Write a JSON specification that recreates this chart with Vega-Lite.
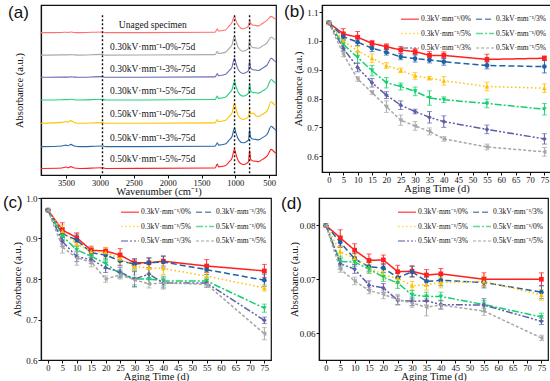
{
"$schema":"https://vega.github.io/schema/vega-lite/v6.json",
"padding":{"left":2,"top":2,"right":0,"bottom":0},
"config":{
 "font":"Liberation Serif",
 "view":{"stroke":"#111","strokeWidth":1.2},
 "axis":{"grid":false,"domainColor":"#111","domainWidth":1.2,"tickColor":"#111","tickSize":3,"labelFont":"Liberation Serif","labelFontSize":9,"labelColor":"#111","labelPadding":1,"titleFont":"Liberation Serif","titleFontSize":10.5,"titleFontWeight":"normal","titleColor":"#111","titlePadding":0,"labelOverlap":false},
 "axisX":{"labelPadding":0,"titlePadding":0,"labelFontSize":8.5}
},
"datasets":{
 "spec":[
{"s":"U","w":3870,"y":6.28},{"s":"U","w":3560,"y":6.29},{"s":"U","w":3500,"y":6.30},{"s":"U","w":3470,"y":6.29},{"s":"U","w":3430,"y":6.31},{"s":"U","w":3380,"y":6.29},{"s":"U","w":3300,"y":6.28},{"s":"U","w":2962,"y":6.31},{"s":"U","w":2920,"y":6.28},{"s":"U","w":1300,"y":6.30},{"s":"U","w":1265,"y":6.45},{"s":"U","w":1250,"y":6.35},{"s":"U","w":1150,"y":6.40},{"s":"U","w":1090,"y":6.58},{"s":"U","w":1050,"y":6.73},{"s":"U","w":1012,"y":7.00},{"s":"U","w":990,"y":6.80},{"s":"U","w":950,"y":6.58},{"s":"U","w":890,"y":6.45},{"s":"U","w":850,"y":6.48},{"s":"U","w":805,"y":6.58},{"s":"U","w":790,"y":6.84},{"s":"U","w":775,"y":6.70},{"s":"U","w":740,"y":6.61},{"s":"U","w":700,"y":6.60},{"s":"U","w":660,"y":6.58},{"s":"U","w":600,"y":6.68},{"s":"U","w":530,"y":6.83},{"s":"U","w":470,"y":7.00},{"s":"U","w":440,"y":6.94},{"s":"U","w":400,"y":6.86},
{"s":"G","w":3870,"y":5.29},{"s":"G","w":3560,"y":5.30},{"s":"G","w":3500,"y":5.30},{"s":"G","w":3470,"y":5.30},{"s":"G","w":3430,"y":5.31},{"s":"G","w":3380,"y":5.30},{"s":"G","w":3300,"y":5.29},{"s":"G","w":2962,"y":5.32},{"s":"G","w":2920,"y":5.29},{"s":"G","w":1300,"y":5.31},{"s":"G","w":1265,"y":5.46},{"s":"G","w":1250,"y":5.36},{"s":"G","w":1150,"y":5.41},{"s":"G","w":1090,"y":5.59},{"s":"G","w":1050,"y":5.74},{"s":"G","w":1012,"y":6.14},{"s":"G","w":990,"y":5.90},{"s":"G","w":950,"y":5.59},{"s":"G","w":890,"y":5.46},{"s":"G","w":850,"y":5.49},{"s":"G","w":805,"y":5.59},{"s":"G","w":790,"y":6.01},{"s":"G","w":775,"y":5.71},{"s":"G","w":740,"y":5.62},{"s":"G","w":700,"y":5.61},{"s":"G","w":660,"y":5.59},{"s":"G","w":600,"y":5.69},{"s":"G","w":530,"y":5.84},{"s":"G","w":470,"y":6.09},{"s":"G","w":440,"y":6.03},{"s":"G","w":400,"y":5.93},
{"s":"P","w":3870,"y":4.31},{"s":"P","w":3560,"y":4.32},{"s":"P","w":3500,"y":4.32},{"s":"P","w":3470,"y":4.32},{"s":"P","w":3430,"y":4.33},{"s":"P","w":3380,"y":4.32},{"s":"P","w":3300,"y":4.31},{"s":"P","w":2962,"y":4.34},{"s":"P","w":2920,"y":4.31},{"s":"P","w":1300,"y":4.33},{"s":"P","w":1265,"y":4.48},{"s":"P","w":1250,"y":4.38},{"s":"P","w":1150,"y":4.43},{"s":"P","w":1090,"y":4.61},{"s":"P","w":1050,"y":4.76},{"s":"P","w":1012,"y":5.15},{"s":"P","w":990,"y":4.91},{"s":"P","w":950,"y":4.61},{"s":"P","w":890,"y":4.48},{"s":"P","w":850,"y":4.51},{"s":"P","w":805,"y":4.61},{"s":"P","w":790,"y":5.07},{"s":"P","w":775,"y":4.73},{"s":"P","w":740,"y":4.64},{"s":"P","w":700,"y":4.63},{"s":"P","w":660,"y":4.61},{"s":"P","w":600,"y":4.71},{"s":"P","w":530,"y":4.86},{"s":"P","w":470,"y":5.15},{"s":"P","w":440,"y":5.08},{"s":"P","w":400,"y":4.98},
{"s":"N","w":3870,"y":3.31},{"s":"N","w":3560,"y":3.32},{"s":"N","w":3500,"y":3.33},{"s":"N","w":3470,"y":3.32},{"s":"N","w":3430,"y":3.34},{"s":"N","w":3380,"y":3.32},{"s":"N","w":3300,"y":3.31},{"s":"N","w":2962,"y":3.34},{"s":"N","w":2920,"y":3.31},{"s":"N","w":1300,"y":3.33},{"s":"N","w":1265,"y":3.48},{"s":"N","w":1250,"y":3.38},{"s":"N","w":1150,"y":3.43},{"s":"N","w":1090,"y":3.61},{"s":"N","w":1050,"y":3.76},{"s":"N","w":1012,"y":4.13},{"s":"N","w":990,"y":3.90},{"s":"N","w":950,"y":3.61},{"s":"N","w":890,"y":3.48},{"s":"N","w":850,"y":3.51},{"s":"N","w":805,"y":3.61},{"s":"N","w":790,"y":4.05},{"s":"N","w":775,"y":3.73},{"s":"N","w":740,"y":3.64},{"s":"N","w":700,"y":3.63},{"s":"N","w":660,"y":3.61},{"s":"N","w":600,"y":3.71},{"s":"N","w":530,"y":3.86},{"s":"N","w":470,"y":4.21},{"s":"N","w":440,"y":4.14},{"s":"N","w":400,"y":4.03},
{"s":"Y","w":3870,"y":2.28},{"s":"Y","w":3560,"y":2.32},{"s":"Y","w":3500,"y":2.36},{"s":"Y","w":3470,"y":2.33},{"s":"Y","w":3430,"y":2.40},{"s":"Y","w":3380,"y":2.32},{"s":"Y","w":3300,"y":2.28},{"s":"Y","w":2962,"y":2.31},{"s":"Y","w":2920,"y":2.28},{"s":"Y","w":1300,"y":2.30},{"s":"Y","w":1265,"y":2.45},{"s":"Y","w":1250,"y":2.35},{"s":"Y","w":1150,"y":2.40},{"s":"Y","w":1090,"y":2.58},{"s":"Y","w":1050,"y":2.73},{"s":"Y","w":1012,"y":3.16},{"s":"Y","w":990,"y":2.91},{"s":"Y","w":950,"y":2.58},{"s":"Y","w":890,"y":2.45},{"s":"Y","w":850,"y":2.48},{"s":"Y","w":805,"y":2.58},{"s":"Y","w":790,"y":2.90},{"s":"Y","w":775,"y":2.70},{"s":"Y","w":740,"y":2.73},{"s":"Y","w":700,"y":2.62},{"s":"Y","w":660,"y":2.58},{"s":"Y","w":600,"y":2.68},{"s":"Y","w":530,"y":2.83},{"s":"Y","w":470,"y":3.23},{"s":"Y","w":440,"y":3.15},{"s":"Y","w":400,"y":3.04},
{"s":"B","w":3870,"y":1.25},{"s":"B","w":3560,"y":1.28},{"s":"B","w":3500,"y":1.32},{"s":"B","w":3470,"y":1.29},{"s":"B","w":3430,"y":1.35},{"s":"B","w":3380,"y":1.28},{"s":"B","w":3300,"y":1.25},{"s":"B","w":2962,"y":1.28},{"s":"B","w":2920,"y":1.25},{"s":"B","w":1300,"y":1.27},{"s":"B","w":1265,"y":1.42},{"s":"B","w":1250,"y":1.32},{"s":"B","w":1150,"y":1.37},{"s":"B","w":1090,"y":1.55},{"s":"B","w":1050,"y":1.70},{"s":"B","w":1012,"y":2.07},{"s":"B","w":990,"y":1.84},{"s":"B","w":950,"y":1.55},{"s":"B","w":890,"y":1.42},{"s":"B","w":850,"y":1.45},{"s":"B","w":805,"y":1.55},{"s":"B","w":790,"y":2.01},{"s":"B","w":775,"y":1.67},{"s":"B","w":740,"y":1.58},{"s":"B","w":700,"y":1.57},{"s":"B","w":660,"y":1.55},{"s":"B","w":600,"y":1.65},{"s":"B","w":530,"y":1.80},{"s":"B","w":470,"y":2.15},{"s":"B","w":440,"y":2.08},{"s":"B","w":400,"y":1.97},
{"s":"R","w":3870,"y":0.29},{"s":"R","w":3560,"y":0.31},{"s":"R","w":3500,"y":0.35},{"s":"R","w":3470,"y":0.32},{"s":"R","w":3430,"y":0.37},{"s":"R","w":3380,"y":0.31},{"s":"R","w":3300,"y":0.29},{"s":"R","w":2962,"y":0.32},{"s":"R","w":2920,"y":0.29},{"s":"R","w":1300,"y":0.31},{"s":"R","w":1265,"y":0.48},{"s":"R","w":1250,"y":0.36},{"s":"R","w":1150,"y":0.41},{"s":"R","w":1090,"y":0.59},{"s":"R","w":1050,"y":0.74},{"s":"R","w":1012,"y":1.15},{"s":"R","w":990,"y":0.91},{"s":"R","w":950,"y":0.59},{"s":"R","w":890,"y":0.46},{"s":"R","w":850,"y":0.49},{"s":"R","w":805,"y":0.59},{"s":"R","w":790,"y":1.09},{"s":"R","w":775,"y":0.71},{"s":"R","w":740,"y":0.62},{"s":"R","w":700,"y":0.61},{"s":"R","w":660,"y":0.59},{"s":"R","w":600,"y":0.69},{"s":"R","w":530,"y":0.84},{"s":"R","w":470,"y":1.13},{"s":"R","w":440,"y":1.06},{"s":"R","w":400,"y":0.96}
 ],
 "pb":[
{"s":"0.3/0%","t":0,"v":1.063,"e":0},{"s":"0.3/0%","t":5,"v":1.025,"e":0.018},{"s":"0.3/0%","t":10,"v":1.013,"e":0.02},{"s":"0.3/0%","t":15,"v":0.992,"e":0.01},{"s":"0.3/0%","t":20,"v":0.98,"e":0.01},{"s":"0.3/0%","t":25,"v":0.969,"e":0.012},{"s":"0.3/0%","t":30,"v":0.963,"e":0.01},{"s":"0.3/0%","t":35,"v":0.95,"e":0.013},{"s":"0.3/0%","t":40,"v":0.95,"e":0.012},{"s":"0.3/0%","t":55,"v":0.936,"e":0.018},{"s":"0.3/0%","t":75,"v":0.94,"e":0.008},
{"s":"0.3/3%","t":0,"v":1.063,"e":0},{"s":"0.3/3%","t":5,"v":1.015,"e":0.012},{"s":"0.3/3%","t":10,"v":0.996,"e":0.012},{"s":"0.3/3%","t":15,"v":0.975,"e":0.012},{"s":"0.3/3%","t":20,"v":0.961,"e":0.01},{"s":"0.3/3%","t":25,"v":0.945,"e":0.01},{"s":"0.3/3%","t":30,"v":0.939,"e":0.012},{"s":"0.3/3%","t":35,"v":0.934,"e":0.01},{"s":"0.3/3%","t":40,"v":0.928,"e":0.012},{"s":"0.3/3%","t":55,"v":0.915,"e":0.012},{"s":"0.3/3%","t":75,"v":0.911,"e":0.022},
{"s":"0.3/5%","t":0,"v":1.063,"e":0},{"s":"0.3/5%","t":5,"v":1.0,"e":0.01},{"s":"0.3/5%","t":10,"v":0.966,"e":0.015},{"s":"0.3/5%","t":15,"v":0.94,"e":0.015},{"s":"0.3/5%","t":20,"v":0.915,"e":0.01},{"s":"0.3/5%","t":25,"v":0.898,"e":0.008},{"s":"0.3/5%","t":30,"v":0.879,"e":0.012},{"s":"0.3/5%","t":35,"v":0.871,"e":0.006},{"s":"0.3/5%","t":40,"v":0.862,"e":0.015},{"s":"0.3/5%","t":55,"v":0.842,"e":0.015},{"s":"0.3/5%","t":75,"v":0.836,"e":0.015},
{"s":"0.5/0%","t":0,"v":1.063,"e":0},{"s":"0.5/0%","t":5,"v":0.988,"e":0.015},{"s":"0.5/0%","t":10,"v":0.943,"e":0.02},{"s":"0.5/0%","t":15,"v":0.897,"e":0.018},{"s":"0.5/0%","t":20,"v":0.855,"e":0.018},{"s":"0.5/0%","t":25,"v":0.842,"e":0.012},{"s":"0.5/0%","t":30,"v":0.825,"e":0.015},{"s":"0.5/0%","t":35,"v":0.802,"e":0.025},{"s":"0.5/0%","t":40,"v":0.796,"e":0.01},{"s":"0.5/0%","t":55,"v":0.783,"e":0.015},{"s":"0.5/0%","t":75,"v":0.763,"e":0.02},
{"s":"0.5/3%","t":0,"v":1.063,"e":0},{"s":"0.5/3%","t":5,"v":0.975,"e":0.01},{"s":"0.5/3%","t":10,"v":0.908,"e":0.015},{"s":"0.5/3%","t":15,"v":0.855,"e":0.015},{"s":"0.5/3%","t":20,"v":0.812,"e":0.012},{"s":"0.5/3%","t":25,"v":0.777,"e":0.015},{"s":"0.5/3%","t":30,"v":0.755,"e":0.008},{"s":"0.5/3%","t":35,"v":0.735,"e":0.02},{"s":"0.5/3%","t":40,"v":0.72,"e":0.02},{"s":"0.5/3%","t":55,"v":0.693,"e":0.015},{"s":"0.5/3%","t":75,"v":0.66,"e":0.018},
{"s":"0.5/5%","t":0,"v":1.063,"e":0},{"s":"0.5/5%","t":5,"v":0.955,"e":0.01},{"s":"0.5/5%","t":10,"v":0.868,"e":0.008},{"s":"0.5/5%","t":15,"v":0.821,"e":0.007},{"s":"0.5/5%","t":20,"v":0.772,"e":0.02},{"s":"0.5/5%","t":25,"v":0.725,"e":0.018},{"s":"0.5/5%","t":30,"v":0.705,"e":0.015},{"s":"0.5/5%","t":35,"v":0.686,"e":0.012},{"s":"0.5/5%","t":40,"v":0.66,"e":0.008},{"s":"0.5/5%","t":55,"v":0.632,"e":0.01},{"s":"0.5/5%","t":75,"v":0.615,"e":0.015}
 ],
 "pc":[
{"s":"0.3/0%","t":0,"v":0.97,"e":0},{"s":"0.3/0%","t":5,"v":0.921,"e":0.018},{"s":"0.3/0%","t":10,"v":0.902,"e":0.012},{"s":"0.3/0%","t":15,"v":0.871,"e":0.01},{"s":"0.3/0%","t":20,"v":0.869,"e":0.008},{"s":"0.3/0%","t":25,"v":0.859,"e":0.016},{"s":"0.3/0%","t":30,"v":0.84,"e":0.01},{"s":"0.3/0%","t":35,"v":0.84,"e":0.012},{"s":"0.3/0%","t":40,"v":0.844,"e":0.012},{"s":"0.3/0%","t":55,"v":0.832,"e":0.016},{"s":"0.3/0%","t":75,"v":0.82,"e":0.016},
{"s":"0.3/3%","t":0,"v":0.97,"e":0},{"s":"0.3/3%","t":5,"v":0.912,"e":0.015},{"s":"0.3/3%","t":10,"v":0.896,"e":0.015},{"s":"0.3/3%","t":15,"v":0.865,"e":0.012},{"s":"0.3/3%","t":20,"v":0.859,"e":0.012},{"s":"0.3/3%","t":25,"v":0.845,"e":0.012},{"s":"0.3/3%","t":30,"v":0.837,"e":0.012},{"s":"0.3/3%","t":35,"v":0.84,"e":0.012},{"s":"0.3/3%","t":40,"v":0.842,"e":0.015},{"s":"0.3/3%","t":55,"v":0.823,"e":0.012},{"s":"0.3/3%","t":75,"v":0.797,"e":0.015},
{"s":"0.3/5%","t":0,"v":0.97,"e":0},{"s":"0.3/5%","t":5,"v":0.918,"e":0.015},{"s":"0.3/5%","t":10,"v":0.886,"e":0.012},{"s":"0.3/5%","t":15,"v":0.868,"e":0.012},{"s":"0.3/5%","t":20,"v":0.866,"e":0.012},{"s":"0.3/5%","t":25,"v":0.85,"e":0.015},{"s":"0.3/5%","t":30,"v":0.831,"e":0.01},{"s":"0.3/5%","t":35,"v":0.827,"e":0.012},{"s":"0.3/5%","t":40,"v":0.826,"e":0.015},{"s":"0.3/5%","t":55,"v":0.807,"e":0.012},{"s":"0.3/5%","t":75,"v":0.778,"e":0.008},
{"s":"0.5/0%","t":0,"v":0.97,"e":0},{"s":"0.5/0%","t":5,"v":0.906,"e":0.012},{"s":"0.5/0%","t":10,"v":0.872,"e":0.012},{"s":"0.5/0%","t":15,"v":0.856,"e":0.01},{"s":"0.5/0%","t":20,"v":0.838,"e":0.012},{"s":"0.5/0%","t":25,"v":0.813,"e":0.01},{"s":"0.5/0%","t":30,"v":0.8,"e":0.02},{"s":"0.5/0%","t":35,"v":0.8,"e":0.012},{"s":"0.5/0%","t":40,"v":0.795,"e":0.012},{"s":"0.5/0%","t":55,"v":0.795,"e":0.01},{"s":"0.5/0%","t":75,"v":0.728,"e":0.01},
{"s":"0.5/3%","t":0,"v":0.97,"e":0},{"s":"0.5/3%","t":5,"v":0.893,"e":0.012},{"s":"0.5/3%","t":10,"v":0.855,"e":0.012},{"s":"0.5/3%","t":15,"v":0.848,"e":0.01},{"s":"0.5/3%","t":20,"v":0.828,"e":0.012},{"s":"0.5/3%","t":25,"v":0.817,"e":0.012},{"s":"0.5/3%","t":30,"v":0.8,"e":0.018},{"s":"0.5/3%","t":35,"v":0.812,"e":0.012},{"s":"0.5/3%","t":40,"v":0.79,"e":0.012},{"s":"0.5/3%","t":55,"v":0.79,"e":0.01},{"s":"0.5/3%","t":75,"v":0.698,"e":0.008},
{"s":"0.5/5%","t":0,"v":0.97,"e":0},{"s":"0.5/5%","t":5,"v":0.879,"e":0.015},{"s":"0.5/5%","t":10,"v":0.852,"e":0.018},{"s":"0.5/5%","t":15,"v":0.842,"e":0.012},{"s":"0.5/5%","t":20,"v":0.8,"e":0.008},{"s":"0.5/5%","t":25,"v":0.81,"e":0.01},{"s":"0.5/5%","t":30,"v":0.798,"e":0.012},{"s":"0.5/5%","t":35,"v":0.788,"e":0.01},{"s":"0.5/5%","t":40,"v":0.79,"e":0.015},{"s":"0.5/5%","t":55,"v":0.787,"e":0.008},{"s":"0.5/5%","t":75,"v":0.665,"e":0.015}
 ],
 "pd":[
{"s":"0.3/0%","t":0,"v":0.08,"e":0},{"s":"0.3/0%","t":5,"v":0.0777,"e":0.0015},{"s":"0.3/0%","t":10,"v":0.0754,"e":0.0012},{"s":"0.3/0%","t":15,"v":0.0735,"e":0.0012},{"s":"0.3/0%","t":20,"v":0.0736,"e":0.0009},{"s":"0.3/0%","t":25,"v":0.0714,"e":0.0012},{"s":"0.3/0%","t":30,"v":0.0715,"e":0.001},{"s":"0.3/0%","t":35,"v":0.0708,"e":0.001},{"s":"0.3/0%","t":40,"v":0.071,"e":0.001},{"s":"0.3/0%","t":55,"v":0.07,"e":0.0012},{"s":"0.3/0%","t":75,"v":0.07,"e":0.0012},
{"s":"0.3/3%","t":0,"v":0.08,"e":0},{"s":"0.3/3%","t":5,"v":0.0769,"e":0.001},{"s":"0.3/3%","t":10,"v":0.0738,"e":0.001},{"s":"0.3/3%","t":15,"v":0.0723,"e":0.0008},{"s":"0.3/3%","t":20,"v":0.0721,"e":0.0008},{"s":"0.3/3%","t":25,"v":0.0703,"e":0.001},{"s":"0.3/3%","t":30,"v":0.0714,"e":0.001},{"s":"0.3/3%","t":35,"v":0.0696,"e":0.0008},{"s":"0.3/3%","t":40,"v":0.0698,"e":0.001},{"s":"0.3/3%","t":55,"v":0.0694,"e":0.001},{"s":"0.3/3%","t":75,"v":0.0676,"e":0.0012},
{"s":"0.3/5%","t":0,"v":0.08,"e":0},{"s":"0.3/5%","t":5,"v":0.0751,"e":0.001},{"s":"0.3/5%","t":10,"v":0.0739,"e":0.0008},{"s":"0.3/5%","t":15,"v":0.0722,"e":0.001},{"s":"0.3/5%","t":20,"v":0.0708,"e":0.0008},{"s":"0.3/5%","t":25,"v":0.0702,"e":0.001},{"s":"0.3/5%","t":30,"v":0.0688,"e":0.0008},{"s":"0.3/5%","t":35,"v":0.069,"e":0.001},{"s":"0.3/5%","t":40,"v":0.0694,"e":0.001},{"s":"0.3/5%","t":55,"v":0.0696,"e":0.001},{"s":"0.3/5%","t":75,"v":0.0671,"e":0.001},
{"s":"0.5/0%","t":0,"v":0.08,"e":0},{"s":"0.5/0%","t":5,"v":0.0733,"e":0.001},{"s":"0.5/0%","t":10,"v":0.0732,"e":0.0008},{"s":"0.5/0%","t":15,"v":0.0719,"e":0.0008},{"s":"0.5/0%","t":20,"v":0.0704,"e":0.0008},{"s":"0.5/0%","t":25,"v":0.0693,"e":0.001},{"s":"0.5/0%","t":30,"v":0.0671,"e":0.0008},{"s":"0.5/0%","t":35,"v":0.0668,"e":0.0008},{"s":"0.5/0%","t":40,"v":0.0668,"e":0.0008},{"s":"0.5/0%","t":55,"v":0.0653,"e":0.0007},{"s":"0.5/0%","t":75,"v":0.063,"e":0.0007},
{"s":"0.5/3%","t":0,"v":0.08,"e":0},{"s":"0.5/3%","t":5,"v":0.0729,"e":0.001},{"s":"0.5/3%","t":10,"v":0.0719,"e":0.0008},{"s":"0.5/3%","t":15,"v":0.0689,"e":0.0008},{"s":"0.5/3%","t":20,"v":0.0684,"e":0.0008},{"s":"0.5/3%","t":25,"v":0.0661,"e":0.0008},{"s":"0.5/3%","t":30,"v":0.0659,"e":0.0008},{"s":"0.5/3%","t":35,"v":0.066,"e":0.0008},{"s":"0.5/3%","t":40,"v":0.0653,"e":0.0008},{"s":"0.5/3%","t":55,"v":0.0652,"e":0.0012},{"s":"0.5/3%","t":75,"v":0.0622,"e":0.0006},
{"s":"0.5/5%","t":0,"v":0.08,"e":0},{"s":"0.5/5%","t":5,"v":0.0719,"e":0.0006},{"s":"0.5/5%","t":10,"v":0.0697,"e":0.0007},{"s":"0.5/5%","t":15,"v":0.0679,"e":0.0006},{"s":"0.5/5%","t":20,"v":0.0672,"e":0.0008},{"s":"0.5/5%","t":25,"v":0.0662,"e":0.001},{"s":"0.5/5%","t":30,"v":0.0656,"e":0.0008},{"s":"0.5/5%","t":35,"v":0.0648,"e":0.0016},{"s":"0.5/5%","t":40,"v":0.0652,"e":0.0008},{"s":"0.5/5%","t":55,"v":0.0641,"e":0.0008},{"s":"0.5/5%","t":75,"v":0.0591,"e":0.0005}
 ]
},
"resolve":{"scale":{"color":"independent","strokeDash":"independent","shape":"independent","fill":"independent"},"legend":{"color":"independent","strokeDash":"independent","shape":"independent","fill":"independent"}},
"spacing":-10,
"vconcat":[
{"hconcat":[
 {"width":235,"height":170,
  "encoding":{"x":{"field":"w","type":"quantitative","scale":{"domain":[400,3870],"reverse":true,"nice":false,"zero":false},"axis":{"values":[500,1000,1500,2000,2500,3000,3500],"format":"d","title":"Wavenumber (cm⁻¹)"}}},
  "layer":[
   {"data":{"name":"spec"},"mark":{"type":"line","strokeWidth":1.1,"interpolate":"monotone"},
    "encoding":{"y":{"field":"y","type":"quantitative","scale":{"domain":[0,7.5],"nice":false,"zero":false},"axis":{"labels":false,"ticks":false,"title":"Absorbance (a.u.)","minExtent":0,"maxExtent":0,"titlePadding":17}},
     "color":{"field":"s","type":"nominal","scale":{"domain":["U","G","P","N","Y","B","R"],"range":["#ff7070","#a9a9a9","#6b6bb5","#25d080","#ffc200","#2a6aa8","#ff2020"]},"legend":null}}},
   {"data":{"values":[{"w":2962},{"w":1012},{"w":790}]},"mark":{"type":"rule","color":"#111","strokeWidth":1.4,"strokeDash":[2,2]},
    "encoding":{"y":{"datum":0.08,"type":"quantitative","scale":{"domain":[0,7.5],"nice":false,"zero":false}},"y2":{"datum":7.06}}},
   {"data":{"values":[{"w":2220,"y":6.62,"label":"Unaged specimen"},{"w":2220,"y":5.66,"label":"0.30kV·mm⁻¹-0%-75d"},{"w":2220,"y":4.67,"label":"0.30kV·mm⁻¹-3%-75d"},{"w":2220,"y":3.72,"label":"0.30kV·mm⁻¹-5%-75d"},{"w":2220,"y":2.69,"label":"0.50kV·mm⁻¹-0%-75d"},{"w":2220,"y":1.62,"label":"0.50kV·mm⁻¹-3%-75d"},{"w":2220,"y":0.69,"label":"0.50kV·mm⁻¹-5%-75d"}]},
    "mark":{"type":"text","font":"Liberation Serif","fontSize":9.5,"align":"center","baseline":"middle","color":"#111"},
    "encoding":{"y":{"field":"y","type":"quantitative","scale":{"domain":[0,7.5],"nice":false,"zero":false}},"text":{"field":"label"}}},
   {"data":{"values":[{"w":4357,"y":7.5,"label":"(a)"}]},
    "mark":{"type":"text","font":"Liberation Sans","fontSize":17,"align":"left","baseline":"top","color":"#111"},
    "encoding":{"y":{"field":"y","type":"quantitative","scale":{"domain":[0,7.5],"nice":false,"zero":false}},"text":{"field":"label"}}}
  ]},
 {"width":229,"height":167,
  "data":{"name":"pb"},
  "resolve":{"scale":{"shape":"independent","fill":"independent"}},
  "encoding":{
   "x":{"field":"t","type":"quantitative","scale":{"domain":[-2.4,77.3],"nice":false,"zero":false},"axis":{"values":[0,5,10,15,20,25,30,35,40,45,50,55,60,65,70,75],"title":"Aging Time (d)"}},
   "y":{"field":"v","type":"quantitative","scale":{"domain":[0.545,1.125],"nice":false,"zero":false},"axis":{"values":[0.6,0.7,0.8,0.9,1.0,1.1],"format":".1f","title":"Absorbance (a.u.)","minExtent":18,"maxExtent":18,"titlePadding":1}}
  },
  "layer":[
   {"mark":{"type":"errorbar","ticks":true,"thickness":1},"encoding":{"yError":{"field":"e"},"color":{"field":"s","type":"nominal","scale":{"domain":["0.3/0%","0.3/5%","0.5/3%","0.3/3%","0.5/0%","0.5/5%"],"range":["#ff1f1f","#ffc000","#5f5fa8","#1f62a3","#14d06a","#a6a6a6"]}}}},
   {"mark":{"type":"line","strokeWidth":1.5},"encoding":{
     "color":{"field":"s","type":"nominal","scale":{"domain":["0.3/0%","0.3/5%","0.5/3%","0.3/3%","0.5/0%","0.5/5%"],"range":["#ff1f1f","#ffc000","#5f5fa8","#1f62a3","#14d06a","#a6a6a6"]},
      "legend":{"orient":"top-right","columns":2,"title":null,"symbolType":"stroke","symbolSize":320,"symbolStrokeWidth":1.6,"labelFontSize":7.5,"labelFont":"Liberation Serif","labelColor":"#111","labelOffset":1,"columnPadding":0,"rowPadding":0.5,"padding":1,"offset":3,"labelExpr":"replace(datum.label,'/','kV·mm⁻¹/')"}},
     "strokeDash":{"field":"s","type":"nominal","scale":{"domain":["0.3/0%","0.3/5%","0.5/3%","0.3/3%","0.5/0%","0.5/5%"],"range":[[1,0],[1.5,2.5],[7,2,2,2,2,2],[6,3],[7,2,2,2],[3,2]]}}}},
   {"mark":{"type":"point","filled":true,"size":22,"opacity":1},"encoding":{"fill":{"field":"s","type":"nominal","legend":null,"scale":{"domain":["0.3/0%","0.3/5%","0.5/3%","0.3/3%","0.5/0%","0.5/5%"],"range":["#ff1f1f","#ffc000","#5f5fa8","#1f62a3","#14d06a","#a6a6a6"]}},"shape":{"field":"s","type":"nominal","scale":{"domain":["0.3/0%","0.3/5%","0.5/3%","0.3/3%","0.5/0%","0.5/5%"],"range":["square","triangle-up","diamond","circle","triangle-down","triangle-left"]},"legend":null}}},
   {"data":{"values":[{"lab":"(b)","t":-15.6,"v":1.128}]},"mark":{"type":"text","font":"Liberation Sans","fontSize":17,"align":"left","baseline":"top","color":"#111"},
    "encoding":{"text":{"field":"lab"}}}
  ]}
 ],"spacing":4,
 "resolve":{"scale":{"color":"independent","strokeDash":"independent","shape":"independent","fill":"independent"},"legend":{"color":"independent","strokeDash":"independent","shape":"independent","fill":"independent"}}},
{"hconcat":[
 {"width":230,"height":162,
  "data":{"name":"pc"},
  "resolve":{"scale":{"shape":"independent","fill":"independent"}},
  "encoding":{
   "x":{"field":"t","type":"quantitative","scale":{"domain":[-2.4,77.3],"nice":false,"zero":false},"axis":{"values":[0,5,10,15,20,25,30,35,40,45,50,55,60,65,70,75],"title":"Aging Time (d)"}},
   "y":{"field":"v","type":"quantitative","scale":{"domain":[0.6,1.0],"nice":false,"zero":false},"axis":{"values":[0.6,0.7,0.8,0.9,1.0],"format":".1f","title":"Absorbance (a.u.)","minExtent":18,"maxExtent":18,"titlePadding":1}}
  },
  "layer":[
   {"mark":{"type":"errorbar","ticks":true,"thickness":1},"encoding":{"yError":{"field":"e"},"color":{"field":"s","type":"nominal","scale":{"domain":["0.3/0%","0.3/5%","0.5/3%","0.3/3%","0.5/0%","0.5/5%"],"range":["#ff1f1f","#ffc000","#5f5fa8","#1f62a3","#14d06a","#a6a6a6"]}}}},
   {"mark":{"type":"line","strokeWidth":1.5},"encoding":{
     "color":{"field":"s","type":"nominal","scale":{"domain":["0.3/0%","0.3/5%","0.5/3%","0.3/3%","0.5/0%","0.5/5%"],"range":["#ff1f1f","#ffc000","#5f5fa8","#1f62a3","#14d06a","#a6a6a6"]},
      "legend":{"orient":"top-right","columns":2,"title":null,"symbolType":"stroke","symbolSize":320,"symbolStrokeWidth":1.6,"labelFontSize":7.5,"labelFont":"Liberation Serif","labelColor":"#111","labelOffset":1,"columnPadding":0,"rowPadding":0.5,"padding":1,"offset":3,"labelExpr":"replace(datum.label,'/','kV·mm⁻¹/')"}},
     "strokeDash":{"field":"s","type":"nominal","scale":{"domain":["0.3/0%","0.3/5%","0.5/3%","0.3/3%","0.5/0%","0.5/5%"],"range":[[1,0],[1.5,2.5],[7,2,2,2,2,2],[6,3],[7,2,2,2],[3,2]]}}}},
   {"mark":{"type":"point","filled":true,"size":22,"opacity":1},"encoding":{"fill":{"field":"s","type":"nominal","legend":null,"scale":{"domain":["0.3/0%","0.3/5%","0.5/3%","0.3/3%","0.5/0%","0.5/5%"],"range":["#ff1f1f","#ffc000","#5f5fa8","#1f62a3","#14d06a","#a6a6a6"]}},"shape":{"field":"s","type":"nominal","scale":{"domain":["0.3/0%","0.3/5%","0.5/3%","0.3/3%","0.5/0%","0.5/5%"],"range":["square","triangle-up","diamond","circle","triangle-down","triangle-left"]},"legend":null}}},
   {"data":{"values":[{"lab":"(c)","t":-15.6,"v":1.0074}]},"mark":{"type":"text","font":"Liberation Sans","fontSize":17,"align":"left","baseline":"top","color":"#111"},
    "encoding":{"text":{"field":"lab"}}}
  ]},
 {"width":229,"height":162,
  "data":{"name":"pd"},
  "resolve":{"scale":{"shape":"independent","fill":"independent"}},
  "encoding":{
   "x":{"field":"t","type":"quantitative","scale":{"domain":[-2.4,77.3],"nice":false,"zero":false},"axis":{"values":[0,5,10,15,20,25,30,35,40,45,50,55,60,65,70,75],"title":"Aging Time (d)"}},
   "y":{"field":"v","type":"quantitative","scale":{"domain":[0.055,0.0851],"nice":false,"zero":false},"axis":{"values":[0.06,0.07,0.08],"format":".2f","title":"Absorbance (a.u.)","minExtent":20,"maxExtent":20,"titlePadding":0}}
  },
  "layer":[
   {"mark":{"type":"errorbar","ticks":true,"thickness":1},"encoding":{"yError":{"field":"e"},"color":{"field":"s","type":"nominal","scale":{"domain":["0.3/0%","0.3/5%","0.5/3%","0.3/3%","0.5/0%","0.5/5%"],"range":["#ff1f1f","#ffc000","#5f5fa8","#1f62a3","#14d06a","#a6a6a6"]}}}},
   {"mark":{"type":"line","strokeWidth":1.5},"encoding":{
     "color":{"field":"s","type":"nominal","scale":{"domain":["0.3/0%","0.3/5%","0.5/3%","0.3/3%","0.5/0%","0.5/5%"],"range":["#ff1f1f","#ffc000","#5f5fa8","#1f62a3","#14d06a","#a6a6a6"]},
      "legend":{"orient":"top-right","columns":2,"title":null,"symbolType":"stroke","symbolSize":320,"symbolStrokeWidth":1.6,"labelFontSize":7.5,"labelFont":"Liberation Serif","labelColor":"#111","labelOffset":1,"columnPadding":0,"rowPadding":0.5,"padding":1,"offset":3,"labelExpr":"replace(datum.label,'/','kV·mm⁻¹/')"}},
     "strokeDash":{"field":"s","type":"nominal","scale":{"domain":["0.3/0%","0.3/5%","0.5/3%","0.3/3%","0.5/0%","0.5/5%"],"range":[[1,0],[1.5,2.5],[7,2,2,2,2,2],[6,3],[7,2,2,2],[3,2]]}}}},
   {"mark":{"type":"point","filled":true,"size":22,"opacity":1},"encoding":{"fill":{"field":"s","type":"nominal","legend":null,"scale":{"domain":["0.3/0%","0.3/5%","0.5/3%","0.3/3%","0.5/0%","0.5/5%"],"range":["#ff1f1f","#ffc000","#5f5fa8","#1f62a3","#14d06a","#a6a6a6"]}},"shape":{"field":"s","type":"nominal","scale":{"domain":["0.3/0%","0.3/5%","0.5/3%","0.3/3%","0.5/0%","0.5/5%"],"range":["square","triangle-up","diamond","circle","triangle-down","triangle-left"]},"legend":null}}},
   {"data":{"values":[{"lab":"(d)","t":-15.6,"v":0.0855}]},"mark":{"type":"text","font":"Liberation Sans","fontSize":17,"align":"left","baseline":"top","color":"#111"},
    "encoding":{"text":{"field":"lab"}}}
  ]}
 ],"spacing":8,
 "resolve":{"scale":{"color":"independent","strokeDash":"independent","shape":"independent","fill":"independent"},"legend":{"color":"independent","strokeDash":"independent","shape":"independent","fill":"independent"}}}
]
}
